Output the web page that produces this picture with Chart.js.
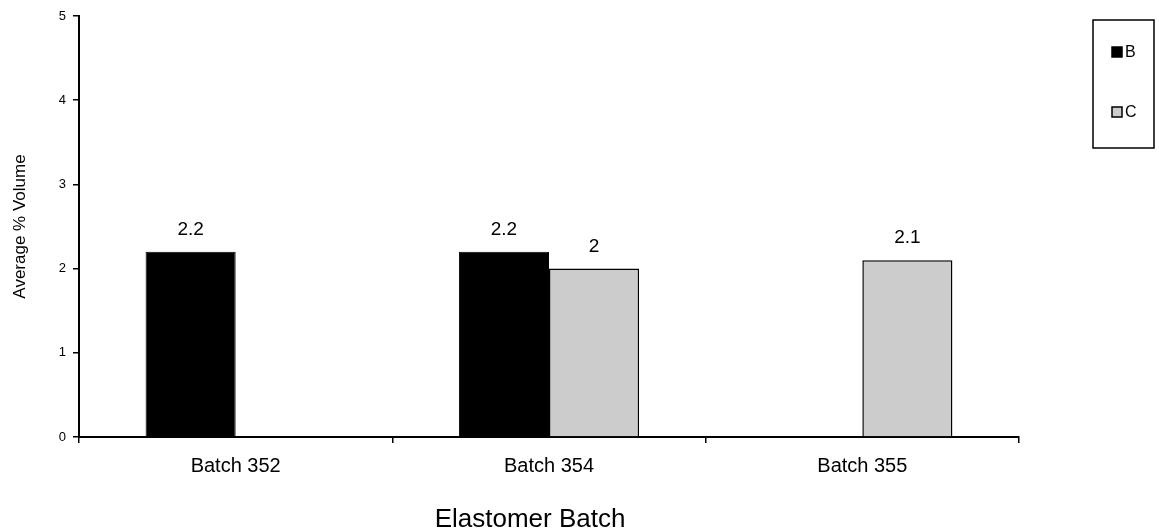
<!DOCTYPE html>
<html>
<head>
<meta charset="utf-8">
<script src="https://cdn.jsdelivr.net/npm/chart.js@4"></script>
<style>
  html, body { margin: 0; padding: 0; background: #fff; }
  #wrap { width: 1159px; height: 531px; }
</style>
</head>
<body>
<div id="wrap"><canvas id="batchChart" width="1159" height="531"></canvas></div>
<script>
// values
const categories = ['Batch 352', 'Batch 354', 'Batch 355'];
const seriesB = [2.2, 2.2, null];
const seriesC = [null, 2.0, 2.1];
const yTicks = [0, 1, 2, 3, 4, 5];

const FONT = 'Arial, "Liberation Sans", sans-serif';

// value labels above each bar
const valueLabels = {
  id: 'valueLabels',
  afterDatasetsDraw(chart) {
    const c = chart.ctx;
    c.save();
    c.fillStyle = '#000';
    c.font = '19px ' + FONT;
    c.textAlign = 'center';
    c.textBaseline = 'alphabetic';
    chart.data.datasets.forEach((ds, i) => {
      const meta = chart.getDatasetMeta(i);
      meta.data.forEach((bar, j) => {
        const v = ds.data[j];
        if (v === null || v === undefined) return;
        c.fillText(String(v), bar.x, bar.y - 17);
      });
    });
    c.restore();
  }
};

// axis titles, placed like the original (x title sits a bit left of centre)
const axisTitles = {
  id: 'axisTitles',
  afterDraw(chart) {
    const c = chart.ctx;
    const a = chart.chartArea;
    c.save();
    c.fillStyle = '#000';
    c.textAlign = 'center';
    c.font = '26px ' + FONT;
    c.textBaseline = 'alphabetic';
    c.fillText('Elastomer Batch', (a.left + a.right) / 2 - 19, 527);
    c.translate(20, (a.top + a.bottom) / 2);
    c.rotate(-Math.PI / 2);
    c.font = '17px ' + FONT;
    c.textBaseline = 'middle';
    c.fillText('Average % Volume', 0, 0);
    c.restore();
  }
};

// boxed legend on the right, like the original
const boxLegend = {
  id: 'boxLegend',
  afterDraw(chart) {
    const c = chart.ctx;
    const x = 1093, y = 20, w = 61, h = 128;
    c.save();
    c.strokeStyle = '#000';
    c.lineWidth = 1.5;
    c.strokeRect(x, y, w, h);
    c.font = '16px ' + FONT;
    c.textBaseline = 'middle';
    c.textAlign = 'left';
    chart.data.datasets.forEach((ds, i) => {
      const cy = 52 + i * 60;
      c.fillStyle = ds.backgroundColor;
      c.fillRect(1112, cy - 5, 10, 10);
      c.lineWidth = 1.5;
      c.strokeStyle = '#000';
      c.strokeRect(1112, cy - 5, 10, 10);
      c.fillStyle = '#000';
      c.fillText(ds.label, 1125, cy + 1);
    });
    c.restore();
  }
};

new Chart(document.getElementById('batchChart').getContext('2d'), {
  type: 'bar',
  data: {
    labels: categories,
    datasets: [
      { label: 'B', data: seriesB, backgroundColor: '#000000', borderColor: '#000', borderWidth: 1 },
      { label: 'C', data: seriesC, backgroundColor: '#cccccc', borderColor: '#000', borderWidth: 1.5 }
    ]
  },
  options: {
    responsive: false,
    animation: false,
    layout: { padding: { top: 16, right: 140, left: 0, bottom: 0 } },
    categoryPercentage: 0.575,
    barPercentage: 1.0,
    plugins: {
      legend: { display: false },
      tooltip: { enabled: false }
    },
    scales: {
      x: {
        grid: { offset: true, drawOnChartArea: false, tickLength: 6, color: '#000', lineWidth: 1.5 },
        border: { color: '#000', width: 2 },
        ticks: { color: '#000', font: { size: 20, family: FONT }, padding: 11 },
        afterFit(s) { s.height = 94; }
      },
      y: {
        min: 0,
        max: 5,
        afterBuildTicks(s) { s.ticks = yTicks.map(v => ({ value: v })); },
        grid: { drawOnChartArea: false, tickLength: 6, color: '#000', lineWidth: 1.5 },
        border: { color: '#000', width: 2 },
        ticks: { color: '#000', font: { size: 13, family: FONT }, padding: 7 },
        afterFit(s) { s.width = 79; }
      }
    }
  },
  plugins: [valueLabels, axisTitles, boxLegend]
});
</script>
</body>
</html>
